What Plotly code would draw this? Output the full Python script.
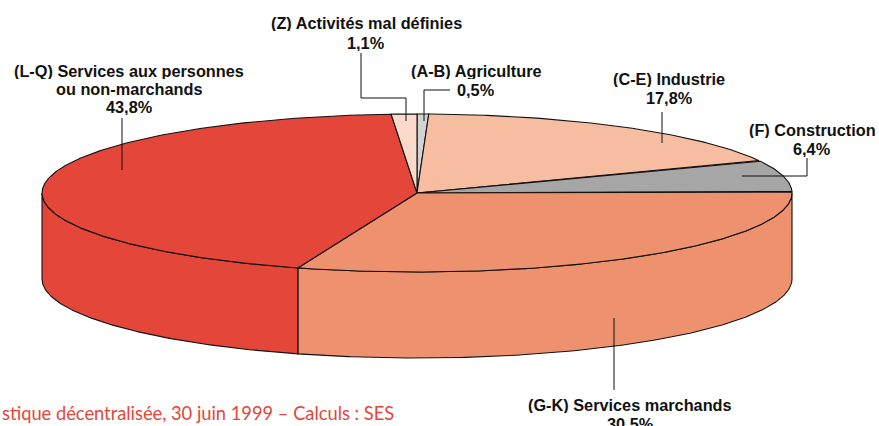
import numpy as np
import plotly.graph_objects as go

# ---------------- data ----------------
sectors = [
    "(A-B) Agriculture",
    "(C-E) Industrie",
    "(F) Construction",
    "(G-K) Services marchands",
    "(L-Q) Services aux personnes ou non-marchands",
    "(Z) Activités mal définies",
]
shares = [0.5, 17.8, 6.4, 30.5, 43.8, 1.1]
share_labels = ["0,5%", "17,8%", "6,4%", "30,5%", "43,8%", "1,1%"]
label_lines = [
    ["(A-B) Agriculture"],
    ["(C-E) Industrie"],
    ["(F) Construction"],
    ["(G-K) Services marchands"],
    ["(L-Q) Services aux personnes", "ou non-marchands"],
    ["(Z) Activités mal définies"],
]
source_text = "stique décentralisée, 30 juin 1999 – Calculs : SES"

# ---------------- styles / layout ----------------
colors = ["#D3D3D3", "#F7BDA0", "#A6A6A6", "#EE916F", "#E4463A", "#FBDACB"]
W, H = 879, 426
CX, CY, RX, RY, DEPTH = 417, 193, 375, 79, 86
FONT = "Liberation Sans, Arial, sans-serif"
FS = 16.3

# label line positions (x, first-line y, line step) and leader paths (pixels)
label_pos = [
    (476, 71, 18.5),  # Agriculture
    (669, 79, 18.5),  # Industrie
    (812, 130, 18.5), # Construction
    (630, 405, 18.5), # Services marchands
    (129, 71, 18.2),  # Services aux personnes
    (366, 23, 20),    # Z
]
leaders = [
    [(450, 90), (424, 90), (424, 121)],
    [(662, 112), (662, 143)],
    [(807, 158), (807, 176), (742, 176)],
    [(614, 318), (614, 390)],
    [(122, 118), (122, 170)],
    [(361, 53), (361, 98), (406, 98), (406, 121)],
]


def pt(theta_deg, dz=0.0):
    t = np.radians(theta_deg)
    return CX + RX * np.sin(t), CY - RY * np.cos(t) + dz


def arc(a, b, dz=0.0):
    n = max(int(abs(b - a) * 2) + 2, 3)
    th = np.linspace(a, b, n)
    xs, ys = pt(th, dz)
    return list(xs), list(ys)


total = sum(shares)
bounds = np.concatenate([[0], np.cumsum(shares)]) / total * 360.0

fig = go.Figure()
LINE = dict(color="#111111", width=1.1)

# side faces (front half: 90..270 degrees)
for i, s in enumerate(sectors):
    a, b = bounds[i], bounds[i + 1]
    s0, s1 = max(a, 90), min(b, 270)
    if s1 <= s0:
        continue
    tx, ty = arc(s0, s1)
    bx, by = arc(s1, s0, DEPTH)
    fig.add_trace(go.Scatter(
        x=tx + bx + [tx[0]], y=ty + by + [ty[0]],
        mode="lines", fill="toself", fillcolor=colors[i], line=LINE,
        hoverinfo="skip", showlegend=False))

# top faces
for i, s in enumerate(sectors):
    a, b = bounds[i], bounds[i + 1]
    ax_, ay_ = arc(a, b)
    fig.add_trace(go.Scatter(
        x=[CX] + ax_ + [CX], y=[CY] + ay_ + [CY],
        mode="lines", fill="toself", fillcolor=colors[i], line=LINE,
        name=s, text=share_labels[i], hoverinfo="name+text", showlegend=False))

# leader lines
for path in leaders:
    xs = [p[0] for p in path]
    ys = [p[1] for p in path]
    fig.add_trace(go.Scatter(x=xs, y=ys, mode="lines",
                             line=dict(color="#111111", width=1),
                             hoverinfo="skip", showlegend=False))

annotations = []
for i, lines in enumerate(label_lines):
    x0, y0, step = label_pos[i]
    all_lines = lines + [share_labels[i]]
    for k, txt in enumerate(all_lines):
        annotations.append(dict(
            x=x0, y=y0 + k * step, xref="x", yref="y", text="<b>%s</b>" % txt,
            showarrow=False, xanchor="center", yanchor="middle", height=16,
            font=dict(family=FONT, size=FS, color="#111111")))

annotations.append(dict(
    x=0, y=413, xref="paper", yref="y", text=source_text, showarrow=False,
    xanchor="left", yanchor="middle",
    font=dict(family="Lato, Noto Sans, sans-serif", size=18.3, color="#E4463A")))

fig.update_layout(
    width=W, height=H,
    margin=dict(l=0, r=0, t=0, b=0),
    paper_bgcolor="white", plot_bgcolor="white",
    xaxis=dict(range=[0, W], visible=False, fixedrange=True),
    yaxis=dict(range=[H, 0], visible=False, fixedrange=True),
    annotations=annotations,
)

fig.write_html(
    "out.html",
    config={"displayModeBar": False},
    post_script="document.body.style.margin='0';document.body.style.overflow='hidden';",
)
